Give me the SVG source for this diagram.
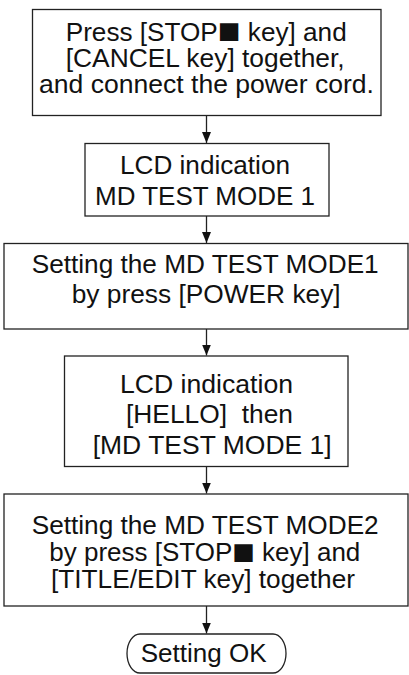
<svg xmlns="http://www.w3.org/2000/svg" width="409" height="675" viewBox="0 0 409 675">
<style>
.box{fill:#fff;stroke:#222;stroke-width:1.3}
.t{font-family:"Liberation Sans",Arial,Helvetica,sans-serif;font-size:25px;fill:#111}
.sq{font-family:"DejaVu Sans",sans-serif;font-size:23px}
.ln{stroke:#222;stroke-width:1.3;fill:none}
</style>
<defs>
<marker id="ah" viewBox="0 0 11 9" refX="11" refY="4.5" markerWidth="11" markerHeight="9" markerUnits="userSpaceOnUse" orient="auto">
<path d="M0,0 L11,4.5 L0,9 Z" fill="#111"/>
</marker>
</defs>
<rect width="409" height="675" fill="#fff"/>
<g id="connectors">
<line class="ln" x1="206.5" y1="115.5" x2="206.5" y2="143" marker-end="url(#ah)"/>
<line class="ln" x1="206.5" y1="216" x2="206.5" y2="243" marker-end="url(#ah)"/>
<line class="ln" x1="206.5" y1="329" x2="206.5" y2="355.5" marker-end="url(#ah)"/>
<line class="ln" x1="206.5" y1="466.5" x2="206.5" y2="493.5" marker-end="url(#ah)"/>
<line class="ln" x1="206.5" y1="606" x2="206.5" y2="633.5" marker-end="url(#ah)"/>
</g>
<g id="n1">
<rect class="box" x="32.5" y="9.5" width="348.5" height="106"/>
<text class="t" x="65.7" y="40.5" textLength="281" lengthAdjust="spacingAndGlyphs">Press [STOP<tspan class="sq" dy="-2.5">■</tspan><tspan dy="2.5"> key] and</tspan></text>
<text class="t" x="65.7" y="66.5" textLength="279" lengthAdjust="spacingAndGlyphs">[CANCEL key] together,</text>
<text class="t" x="39" y="92.5" textLength="335" lengthAdjust="spacingAndGlyphs">and connect the power cord.</text>
</g>
<g id="n2">
<rect class="box" x="85" y="143.5" width="244" height="72.5"/>
<text class="t" x="120" y="174" textLength="170" lengthAdjust="spacingAndGlyphs">LCD indication</text>
<text class="t" x="95" y="205" textLength="220" lengthAdjust="spacingAndGlyphs">MD TEST MODE 1</text>
</g>
<g id="n3">
<rect class="box" x="4" y="243.5" width="404" height="85.5"/>
<text class="t" x="31.7" y="273" textLength="347" lengthAdjust="spacingAndGlyphs">Setting the MD TEST MODE1</text>
<text class="t" x="71.7" y="303" textLength="269" lengthAdjust="spacingAndGlyphs">by press [POWER key]</text>
</g>
<g id="n4">
<rect class="box" x="64.5" y="356" width="283.5" height="110.5"/>
<text class="t" x="120" y="392.5" textLength="173" lengthAdjust="spacingAndGlyphs">LCD indication</text>
<text class="t" x="126" y="422.5" textLength="167" lengthAdjust="spacingAndGlyphs" xml:space="preserve">[HELLO]  then</text>
<text class="t" x="92.7" y="454" textLength="239" lengthAdjust="spacingAndGlyphs">[MD TEST MODE 1]</text>
</g>
<g id="n5">
<rect class="box" x="4" y="494" width="404" height="112"/>
<text class="t" x="31.7" y="533.5" textLength="347" lengthAdjust="spacingAndGlyphs">Setting the MD TEST MODE2</text>
<text class="t" x="49.3" y="561" textLength="311" lengthAdjust="spacingAndGlyphs">by press [STOP<tspan class="sq" dy="-2.5">■</tspan><tspan dy="2.5"> key] and</tspan></text>
<text class="t" x="51" y="588" textLength="304" lengthAdjust="spacingAndGlyphs">[TITLE/EDIT key] together</text>
</g>
<g id="n6">
<path class="box" d="M140,634 H273 A13,19.5 0 0 1 273,673 H140 A13,19.5 0 0 1 140,634 Z"/>
<text class="t" x="140.7" y="662" textLength="126" lengthAdjust="spacingAndGlyphs">Setting OK</text>
</g>
</svg>
